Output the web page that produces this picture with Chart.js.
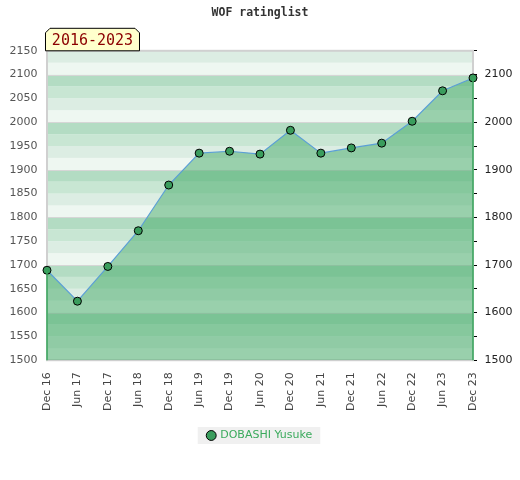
<!DOCTYPE html>
<html>
<head>
<meta charset="utf-8">
<script src="https://cdn.jsdelivr.net/npm/chart.js@4"></script>
<style>
  html, body { margin: 0; padding: 0; background: #fff; }
  #wrap { width: 520px; height: 480px; }
</style>
</head>
<body>
<div id="wrap"><canvas id="chart" width="520" height="480"></canvas></div>
<script>
// Data
const periods = ['Dec 16', 'Jun 17', 'Dec 17', 'Jun 18', 'Dec 18', 'Jun 19', 'Dec 19', 'Jun 20',
  'Dec 20', 'Jun 21', 'Dec 21', 'Jun 22', 'Dec 22', 'Jun 23', 'Dec 23'];
const ratings = [1689, 1624, 1697, 1772, 1868, 1935, 1939, 1933, 1983, 1935, 1946, 1956, 2002, 2066, 2093];
const playerName = 'DOBASHI Yusuke';
const rangeLabel = '2016-2023';
const yMin = 1500;
const yMax = 2150;

// Band colours, darkest at the top of every 100 block
const bandColors = ['#b3dcc3', '#c8e6d3', '#dcede3', '#eef7f1'];

// Striped background behind the plot
const bandsPlugin = {
  id: 'bands',
  beforeDatasetsDraw(chart) {
    const { ctx, chartArea: a, scales: { y } } = chart;
    ctx.save();
    for (let v = yMin; v < yMax; v += 25) {
      const idx = 3 - ((v % 100) / 25);
      const top = y.getPixelForValue(v + 25);
      const bottom = y.getPixelForValue(v);
      ctx.fillStyle = bandColors[idx];
      ctx.fillRect(a.left, top, a.right - a.left, bottom - top);
    }
    ctx.strokeStyle = '#d6d6d6';
    ctx.lineWidth = 1;
    for (let v = yMin; v <= yMax; v += 100) {
      const py = Math.round(y.getPixelForValue(v)) + 0.5;
      ctx.beginPath();
      ctx.moveTo(a.left, py);
      ctx.lineTo(a.right, py);
      ctx.stroke();
    }
    ctx.strokeStyle = '#d0d0d0';
    ctx.lineWidth = 2;
    ctx.strokeRect(a.left, a.top, a.right - a.left, a.bottom - a.top);
    ctx.restore();
  },
  afterDatasetsDraw(chart) {
    // green edges of the filled area
    const { ctx, chartArea: a } = chart;
    const pts = chart.getDatasetMeta(0).data;
    ctx.save();
    ctx.strokeStyle = '#3aa85e';
    ctx.lineWidth = 1.5;
    [pts[0], pts[pts.length - 1]].forEach(p => {
      ctx.beginPath();
      ctx.moveTo(p.x, p.y);
      ctx.lineTo(p.x, a.bottom);
      ctx.stroke();
    });
    ctx.restore();
  }
};

// Yellow tag with the period range above the plot
const tagPlugin = {
  id: 'tag',
  afterDraw(chart) {
    const { ctx, chartArea: a } = chart;
    const x = a.left - 2, w = 95, h = 23, c = 5;
    const y = a.top - h;
    ctx.save();
    ctx.beginPath();
    ctx.moveTo(x + 0.5, y + h);
    ctx.lineTo(x + 0.5, y + c);
    ctx.lineTo(x + c, y + 0.5);
    ctx.lineTo(x + w - c, y + 0.5);
    ctx.lineTo(x + w - 0.5, y + c);
    ctx.lineTo(x + w - 0.5, y + h);
    ctx.closePath();
    ctx.fillStyle = '#ffffcc';
    ctx.fill();
    ctx.strokeStyle = '#000';
    ctx.lineWidth = 1;
    ctx.stroke();
    ctx.fillStyle = '#8b0000';
    ctx.font = '15px "DejaVu Sans Mono", monospace';
    ctx.textAlign = 'center';
    ctx.textBaseline = 'middle';
    ctx.fillText(rangeLabel, x + w / 2, y + h / 2 + 2);
    ctx.restore();
  }
};

// Grey box behind the legend
const legendBoxPlugin = {
  id: 'legendBox',
  beforeDraw(chart) {
    const lg = chart.legend;
    if (!lg || !lg.legendHitBoxes.length) return;
    const hb = lg.legendHitBoxes[0];
    const { ctx } = chart;
    ctx.save();
    ctx.fillStyle = '#f0f0f0';
    ctx.fillRect(hb.left - 10, hb.top - 3, hb.width + 18, hb.height + 6);
    ctx.restore();
  }
};

const tickFont = { family: '"DejaVu Sans", sans-serif', size: 11 };

new Chart(document.getElementById('chart'), {
  type: 'line',
  data: {
    labels: periods,
    datasets: [{
      label: playerName,
      data: ratings,
      borderColor: '#5b9fd6',
      borderWidth: 1.2,
      backgroundColor: 'rgba(67,170,103,0.5)',
      fill: 'start',
      tension: 0,
      pointRadius: 4,
      pointHoverRadius: 4,
      pointBackgroundColor: '#3a9d5d',
      pointBorderColor: '#000',
      pointBorderWidth: 1,
      pointStyle: 'circle'
    }]
  },
  options: {
    responsive: false,
    animation: false,
    layout: { padding: { left: 0, right: 0, top: 0, bottom: 29 } },
    plugins: {
      title: {
        display: true,
        text: 'WOF ratinglist',
        color: '#333',
        font: { family: '"DejaVu Sans Mono", monospace', size: 11.5, weight: 'bold' },
        padding: { top: 6, bottom: 31 }
      },
      legend: {
        position: 'bottom',
        labels: {
          usePointStyle: true,
          pointStyle: 'circle',
          boxWidth: 7,
          boxHeight: 7,
          color: '#3aaa5c',
          font: { family: '"DejaVu Sans", sans-serif', size: 11 },
          padding: 7
        }
      },
      tooltip: { enabled: false }
    },
    scales: {
      x: {
        type: 'category',
        offset: false,
        grid: { display: false, drawTicks: false },
        border: { display: false },
        ticks: {
          color: '#444',
          font: tickFont,
          minRotation: 90,
          maxRotation: 90,
          autoSkip: false,
          padding: 12
        }
      },
      y: {
        position: 'left',
        min: yMin,
        max: yMax,
        grid: { display: false, drawTicks: false },
        border: { display: false },
        ticks: { stepSize: 50, color: '#555', font: tickFont, padding: 9.5, callback: v => String(v) }
      },
      y2: {
        position: 'right',
        min: yMin,
        max: yMax,
        grid: { drawOnChartArea: false, color: '#000', tickLength: 4 },
        border: { display: false },
        ticks: {
          stepSize: 50,
          color: '#222',
          font: tickFont,
          padding: 7.5,
          callback: v => (v % 100 === 0 && v < yMax) ? String(v) : ''
        }
      }
    }
  },
  plugins: [bandsPlugin, tagPlugin, legendBoxPlugin]
});
</script>
</body>
</html>
